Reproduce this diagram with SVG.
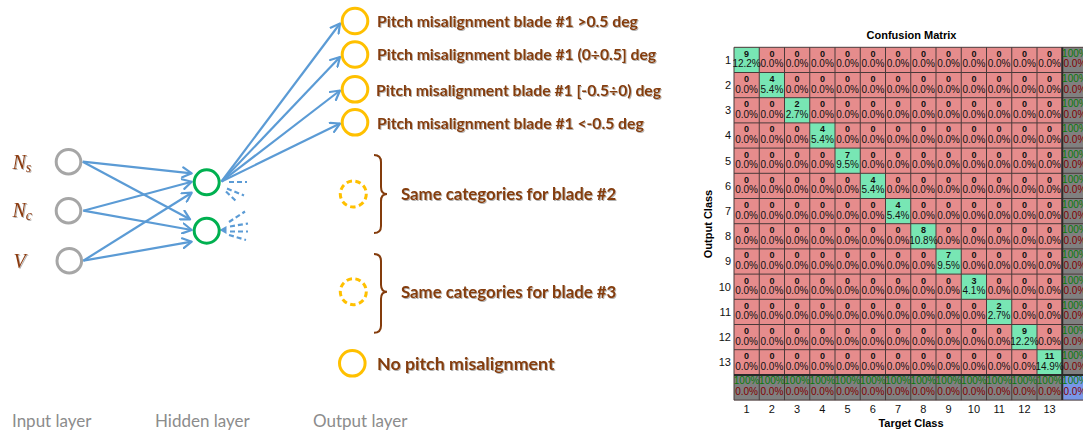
<svg xmlns="http://www.w3.org/2000/svg" width="1083" height="432" viewBox="0 0 1083 432">
<defs>
<marker id="ah" markerUnits="userSpaceOnUse" markerWidth="12" markerHeight="12" viewBox="0 0 12 12" refX="10" refY="6" orient="auto"><path d="M1,1 L10,6 L1,11" fill="none" stroke="#5b9bd5" stroke-width="2.2" stroke-linejoin="round" stroke-linecap="round"/></marker>
<filter id="sh" x="-5%" y="-20%" width="110%" height="150%"><feDropShadow dx="1" dy="1" stdDeviation="0.6" flood-color="#000" flood-opacity="0.3"/></filter>
</defs>
<style>
.lbl{font-family:Lato,"Liberation Sans",sans-serif;font-weight:bold;fill:#843c0c;filter:url(#sh)}
.lay{font-family:Lato,"Liberation Sans",sans-serif;font-size:17px;fill:#8c8c8c}
.var{font-family:"Liberation Serif",serif;font-style:italic;fill:#8b3a0e;filter:url(#sh)}
.inp{fill:#fff;stroke:#a6a6a6;stroke-width:3}
.hid{fill:#fff;stroke:#00b050;stroke-width:3}
.out{fill:#fff;stroke:#ffc000;stroke-width:3}
.dsh{stroke-dasharray:5.5,3.5}
.con{fill:none;stroke:#5b9bd5;stroke-width:2.2;marker-end:url(#ah)}
.stub{fill:none;stroke:#5b9bd5;stroke-width:2.2;stroke-dasharray:5,3}
.brace{fill:none;stroke:#843c0c;stroke-width:2}
.cm{font-family:"Liberation Sans",Arial,sans-serif;text-anchor:middle;fill:#000}
.n{font-family:"Liberation Sans",Arial,sans-serif;font-size:9px;font-weight:bold;text-anchor:middle;fill:#111}
.p{font-family:"Liberation Sans",Arial,sans-serif;font-size:10px;text-anchor:middle;fill:#111}
.g{fill:#0a7a0a}
.r{fill:#800000}
.ax{font-family:"Liberation Sans",Arial,sans-serif;font-size:11px;fill:#111}
</style>
<rect width="1083" height="432" fill="#fff"/>

<g id="connectors">
<path class="con" d="M82.7,161.7 L191.7,173.3"/>
<path class="con" d="M82.7,161.7 L190,219.3"/>
<path class="con" d="M83.3,210.7 L191.7,181.7"/>
<path class="con" d="M83.3,210.7 L191.7,230"/>
<path class="con" d="M83.3,260.7 L191.7,192.7"/>
<path class="con" d="M83.3,260.7 L191.7,241.7"/>
<path class="con" d="M221.5,181.5 L340,23.5"/>
<path class="con" d="M221.5,181.5 L340,57"/>
<path class="con" d="M221.5,181.5 L340,90.5"/>
<path class="con" d="M221.5,181.5 L340,123.5"/>
<path class="stub" d="M229,182 H247 M227,188.5 L244,195.5 M226,191.5 L237,202"/>
<path class="stub" d="M229,222 L245,211.5 M230,226.5 L248,223.5 M230,231.5 H248 M229,235 L246,240"/>
<path d="M219.5,230 L226.5,226 L226.5,234 Z" fill="#5b9bd5"/>
</g>

<g id="input-ns"><circle class="inp" cx="68.5" cy="161.7" r="12.3"/><text class="var" x="12.5" y="169" font-size="20">N<tspan font-size="14" dy="3">s</tspan></text></g>
<g id="input-nc"><circle class="inp" cx="68.5" cy="210.7" r="12.3"/><text class="var" x="12.5" y="217" font-size="20">N<tspan font-size="14" dy="3">c</tspan></text></g>
<g id="input-v"><circle class="inp" cx="69.3" cy="260.7" r="12.3"/><text class="var" x="13.5" y="267.5" font-size="20">V</text></g>

<g id="hidden-1"><circle class="hid" cx="206.7" cy="182.3" r="12.5"/></g>
<g id="hidden-2"><circle class="hid" cx="206.7" cy="230.7" r="12.5"/></g>

<g id="out-1"><circle class="out" cx="355" cy="21" r="12.8"/><text class="lbl" x="377" y="26.7" font-size="15.7">Pitch misalignment blade #1 &gt;0.5 deg</text></g>
<g id="out-2"><circle class="out" cx="355" cy="54.5" r="12.8"/><text class="lbl" x="377" y="60.2" font-size="15.7">Pitch misalignment blade #1 (0÷0.5] deg</text></g>
<g id="out-3"><circle class="out" cx="355" cy="89.3" r="12.8"/><text class="lbl" x="376" y="95.8" font-size="15.7">Pitch misalignment blade #1 [-0.5÷0) deg</text></g>
<g id="out-4"><circle class="out" cx="355" cy="122.3" r="12.8"/><text class="lbl" x="377" y="128.8" font-size="15.7">Pitch misalignment blade #1 &lt;-0.5 deg</text></g>
<g id="out-blade2"><circle class="out dsh" cx="353.3" cy="194" r="13"/><path class="brace" d="M374,155 Q381,155 381,162 L381,187 Q381,194 387,194 Q381,194 381,201 L381,226 Q381,233 374,233"/><text class="lbl" x="401" y="200" font-size="16.8">Same categories for blade #2</text></g>
<g id="out-blade3"><circle class="out dsh" cx="353.3" cy="291.7" r="13"/><path class="brace" d="M374,254 Q381,254 381,261 L381,284.7 Q381,291.7 387,291.7 Q381,291.7 381,298.7 L381,325.7 Q381,332.7 374,332.7"/><text class="lbl" x="401" y="297.7" font-size="16.8">Same categories for blade #3</text></g>
<g id="out-none"><circle class="out" cx="352.3" cy="363.3" r="12.8"/><text class="lbl" x="377" y="369.5" font-size="17.8">No pitch misalignment</text></g>

<g id="layer-labels">
<text class="lay" x="12" y="427">Input layer</text>
<text class="lay" x="155" y="427">Hidden layer</text>
<text class="lay" x="313" y="427">Output layer</text>
</g>

<g id="confusion-matrix">
<text class="cm" x="911.5" y="39" font-size="11" font-weight="bold">Confusion Matrix</text>
<rect x="734" y="47.3" width="328.25" height="327.6" fill="#e68c8c"/>
<rect x="1062.25" y="47.3" width="25.25" height="327.6" fill="#808080"/>
<rect x="734" y="374.9" width="328.25" height="25.2" fill="#808080"/>
<rect x="1062.25" y="374.9" width="25.25" height="25.2" fill="#7896e6"/>
<g fill="#78e6b4">
<rect x="734" y="47.3" width="25.25" height="25.2"/>
<rect x="759.25" y="72.5" width="25.25" height="25.2"/>
<rect x="784.5" y="97.7" width="25.25" height="25.2"/>
<rect x="809.75" y="122.9" width="25.25" height="25.2"/>
<rect x="835" y="148.1" width="25.25" height="25.2"/>
<rect x="860.25" y="173.3" width="25.25" height="25.2"/>
<rect x="885.5" y="198.5" width="25.25" height="25.2"/>
<rect x="910.75" y="223.7" width="25.25" height="25.2"/>
<rect x="936" y="248.9" width="25.25" height="25.2"/>
<rect x="961.25" y="274.1" width="25.25" height="25.2"/>
<rect x="986.5" y="299.3" width="25.25" height="25.2"/>
<rect x="1011.75" y="324.5" width="25.25" height="25.2"/>
<rect x="1037" y="349.7" width="25.25" height="25.2"/>
</g>
<path fill="none" stroke="#4a3a3a" stroke-width="1" d="M734,47.3V400.1 M759.25,47.3V400.1 M784.5,47.3V400.1 M809.75,47.3V400.1 M835,47.3V400.1 M860.25,47.3V400.1 M885.5,47.3V400.1 M910.75,47.3V400.1 M936,47.3V400.1 M961.25,47.3V400.1 M986.5,47.3V400.1 M1011.75,47.3V400.1 M1037,47.3V400.1 M1087.5,47.3V400.1 M734,47.3H1087.5 M734,72.5H1087.5 M734,97.7H1087.5 M734,122.9H1087.5 M734,148.1H1087.5 M734,173.3H1087.5 M734,198.5H1087.5 M734,223.7H1087.5 M734,248.9H1087.5 M734,274.1H1087.5 M734,299.3H1087.5 M734,324.5H1087.5 M734,349.7H1087.5 M734,400.1H1087.5"/>
<path fill="none" stroke="#2a2a2a" stroke-width="2" d="M1062.25,47.3V400.1 M734,374.9H1087.5"/>

<g id="row-1" transform="translate(0,47.3)"><text class="n" x="746.6" y="9.5">9</text><text class="p" x="746.6" y="20">12.2%</text><text class="n" x="771.9" y="9.5">0</text><text class="p" x="771.9" y="20">0.0%</text><text class="n" x="797.1" y="9.5">0</text><text class="p" x="797.1" y="20">0.0%</text><text class="n" x="822.4" y="9.5">0</text><text class="p" x="822.4" y="20">0.0%</text><text class="n" x="847.6" y="9.5">0</text><text class="p" x="847.6" y="20">0.0%</text><text class="n" x="872.9" y="9.5">0</text><text class="p" x="872.9" y="20">0.0%</text><text class="n" x="898.1" y="9.5">0</text><text class="p" x="898.1" y="20">0.0%</text><text class="n" x="923.4" y="9.5">0</text><text class="p" x="923.4" y="20">0.0%</text><text class="n" x="948.6" y="9.5">0</text><text class="p" x="948.6" y="20">0.0%</text><text class="n" x="973.9" y="9.5">0</text><text class="p" x="973.9" y="20">0.0%</text><text class="n" x="999.1" y="9.5">0</text><text class="p" x="999.1" y="20">0.0%</text><text class="n" x="1024.4" y="9.5">0</text><text class="p" x="1024.4" y="20">0.0%</text><text class="n" x="1049.6" y="9.5">0</text><text class="p" x="1049.6" y="20">0.0%</text><text class="p g" x="1074.9" y="9.5">100%</text><text class="p r" x="1074.9" y="20">0.0%</text></g>
<g id="row-2" transform="translate(0,72.5)"><text class="n" x="746.6" y="9.5">0</text><text class="p" x="746.6" y="20">0.0%</text><text class="n" x="771.9" y="9.5">4</text><text class="p" x="771.9" y="20">5.4%</text><text class="n" x="797.1" y="9.5">0</text><text class="p" x="797.1" y="20">0.0%</text><text class="n" x="822.4" y="9.5">0</text><text class="p" x="822.4" y="20">0.0%</text><text class="n" x="847.6" y="9.5">0</text><text class="p" x="847.6" y="20">0.0%</text><text class="n" x="872.9" y="9.5">0</text><text class="p" x="872.9" y="20">0.0%</text><text class="n" x="898.1" y="9.5">0</text><text class="p" x="898.1" y="20">0.0%</text><text class="n" x="923.4" y="9.5">0</text><text class="p" x="923.4" y="20">0.0%</text><text class="n" x="948.6" y="9.5">0</text><text class="p" x="948.6" y="20">0.0%</text><text class="n" x="973.9" y="9.5">0</text><text class="p" x="973.9" y="20">0.0%</text><text class="n" x="999.1" y="9.5">0</text><text class="p" x="999.1" y="20">0.0%</text><text class="n" x="1024.4" y="9.5">0</text><text class="p" x="1024.4" y="20">0.0%</text><text class="n" x="1049.6" y="9.5">0</text><text class="p" x="1049.6" y="20">0.0%</text><text class="p g" x="1074.9" y="9.5">100%</text><text class="p r" x="1074.9" y="20">0.0%</text></g>
<g id="row-3" transform="translate(0,97.7)"><text class="n" x="746.6" y="9.5">0</text><text class="p" x="746.6" y="20">0.0%</text><text class="n" x="771.9" y="9.5">0</text><text class="p" x="771.9" y="20">0.0%</text><text class="n" x="797.1" y="9.5">2</text><text class="p" x="797.1" y="20">2.7%</text><text class="n" x="822.4" y="9.5">0</text><text class="p" x="822.4" y="20">0.0%</text><text class="n" x="847.6" y="9.5">0</text><text class="p" x="847.6" y="20">0.0%</text><text class="n" x="872.9" y="9.5">0</text><text class="p" x="872.9" y="20">0.0%</text><text class="n" x="898.1" y="9.5">0</text><text class="p" x="898.1" y="20">0.0%</text><text class="n" x="923.4" y="9.5">0</text><text class="p" x="923.4" y="20">0.0%</text><text class="n" x="948.6" y="9.5">0</text><text class="p" x="948.6" y="20">0.0%</text><text class="n" x="973.9" y="9.5">0</text><text class="p" x="973.9" y="20">0.0%</text><text class="n" x="999.1" y="9.5">0</text><text class="p" x="999.1" y="20">0.0%</text><text class="n" x="1024.4" y="9.5">0</text><text class="p" x="1024.4" y="20">0.0%</text><text class="n" x="1049.6" y="9.5">0</text><text class="p" x="1049.6" y="20">0.0%</text><text class="p g" x="1074.9" y="9.5">100%</text><text class="p r" x="1074.9" y="20">0.0%</text></g>
<g id="row-4" transform="translate(0,122.9)"><text class="n" x="746.6" y="9.5">0</text><text class="p" x="746.6" y="20">0.0%</text><text class="n" x="771.9" y="9.5">0</text><text class="p" x="771.9" y="20">0.0%</text><text class="n" x="797.1" y="9.5">0</text><text class="p" x="797.1" y="20">0.0%</text><text class="n" x="822.4" y="9.5">4</text><text class="p" x="822.4" y="20">5.4%</text><text class="n" x="847.6" y="9.5">0</text><text class="p" x="847.6" y="20">0.0%</text><text class="n" x="872.9" y="9.5">0</text><text class="p" x="872.9" y="20">0.0%</text><text class="n" x="898.1" y="9.5">0</text><text class="p" x="898.1" y="20">0.0%</text><text class="n" x="923.4" y="9.5">0</text><text class="p" x="923.4" y="20">0.0%</text><text class="n" x="948.6" y="9.5">0</text><text class="p" x="948.6" y="20">0.0%</text><text class="n" x="973.9" y="9.5">0</text><text class="p" x="973.9" y="20">0.0%</text><text class="n" x="999.1" y="9.5">0</text><text class="p" x="999.1" y="20">0.0%</text><text class="n" x="1024.4" y="9.5">0</text><text class="p" x="1024.4" y="20">0.0%</text><text class="n" x="1049.6" y="9.5">0</text><text class="p" x="1049.6" y="20">0.0%</text><text class="p g" x="1074.9" y="9.5">100%</text><text class="p r" x="1074.9" y="20">0.0%</text></g>
<g id="row-5" transform="translate(0,148.1)"><text class="n" x="746.6" y="9.5">0</text><text class="p" x="746.6" y="20">0.0%</text><text class="n" x="771.9" y="9.5">0</text><text class="p" x="771.9" y="20">0.0%</text><text class="n" x="797.1" y="9.5">0</text><text class="p" x="797.1" y="20">0.0%</text><text class="n" x="822.4" y="9.5">0</text><text class="p" x="822.4" y="20">0.0%</text><text class="n" x="847.6" y="9.5">7</text><text class="p" x="847.6" y="20">9.5%</text><text class="n" x="872.9" y="9.5">0</text><text class="p" x="872.9" y="20">0.0%</text><text class="n" x="898.1" y="9.5">0</text><text class="p" x="898.1" y="20">0.0%</text><text class="n" x="923.4" y="9.5">0</text><text class="p" x="923.4" y="20">0.0%</text><text class="n" x="948.6" y="9.5">0</text><text class="p" x="948.6" y="20">0.0%</text><text class="n" x="973.9" y="9.5">0</text><text class="p" x="973.9" y="20">0.0%</text><text class="n" x="999.1" y="9.5">0</text><text class="p" x="999.1" y="20">0.0%</text><text class="n" x="1024.4" y="9.5">0</text><text class="p" x="1024.4" y="20">0.0%</text><text class="n" x="1049.6" y="9.5">0</text><text class="p" x="1049.6" y="20">0.0%</text><text class="p g" x="1074.9" y="9.5">100%</text><text class="p r" x="1074.9" y="20">0.0%</text></g>
<g id="row-6" transform="translate(0,173.3)"><text class="n" x="746.6" y="9.5">0</text><text class="p" x="746.6" y="20">0.0%</text><text class="n" x="771.9" y="9.5">0</text><text class="p" x="771.9" y="20">0.0%</text><text class="n" x="797.1" y="9.5">0</text><text class="p" x="797.1" y="20">0.0%</text><text class="n" x="822.4" y="9.5">0</text><text class="p" x="822.4" y="20">0.0%</text><text class="n" x="847.6" y="9.5">0</text><text class="p" x="847.6" y="20">0.0%</text><text class="n" x="872.9" y="9.5">4</text><text class="p" x="872.9" y="20">5.4%</text><text class="n" x="898.1" y="9.5">0</text><text class="p" x="898.1" y="20">0.0%</text><text class="n" x="923.4" y="9.5">0</text><text class="p" x="923.4" y="20">0.0%</text><text class="n" x="948.6" y="9.5">0</text><text class="p" x="948.6" y="20">0.0%</text><text class="n" x="973.9" y="9.5">0</text><text class="p" x="973.9" y="20">0.0%</text><text class="n" x="999.1" y="9.5">0</text><text class="p" x="999.1" y="20">0.0%</text><text class="n" x="1024.4" y="9.5">0</text><text class="p" x="1024.4" y="20">0.0%</text><text class="n" x="1049.6" y="9.5">0</text><text class="p" x="1049.6" y="20">0.0%</text><text class="p g" x="1074.9" y="9.5">100%</text><text class="p r" x="1074.9" y="20">0.0%</text></g>
<g id="row-7" transform="translate(0,198.5)"><text class="n" x="746.6" y="9.5">0</text><text class="p" x="746.6" y="20">0.0%</text><text class="n" x="771.9" y="9.5">0</text><text class="p" x="771.9" y="20">0.0%</text><text class="n" x="797.1" y="9.5">0</text><text class="p" x="797.1" y="20">0.0%</text><text class="n" x="822.4" y="9.5">0</text><text class="p" x="822.4" y="20">0.0%</text><text class="n" x="847.6" y="9.5">0</text><text class="p" x="847.6" y="20">0.0%</text><text class="n" x="872.9" y="9.5">0</text><text class="p" x="872.9" y="20">0.0%</text><text class="n" x="898.1" y="9.5">4</text><text class="p" x="898.1" y="20">5.4%</text><text class="n" x="923.4" y="9.5">0</text><text class="p" x="923.4" y="20">0.0%</text><text class="n" x="948.6" y="9.5">0</text><text class="p" x="948.6" y="20">0.0%</text><text class="n" x="973.9" y="9.5">0</text><text class="p" x="973.9" y="20">0.0%</text><text class="n" x="999.1" y="9.5">0</text><text class="p" x="999.1" y="20">0.0%</text><text class="n" x="1024.4" y="9.5">0</text><text class="p" x="1024.4" y="20">0.0%</text><text class="n" x="1049.6" y="9.5">0</text><text class="p" x="1049.6" y="20">0.0%</text><text class="p g" x="1074.9" y="9.5">100%</text><text class="p r" x="1074.9" y="20">0.0%</text></g>
<g id="row-8" transform="translate(0,223.7)"><text class="n" x="746.6" y="9.5">0</text><text class="p" x="746.6" y="20">0.0%</text><text class="n" x="771.9" y="9.5">0</text><text class="p" x="771.9" y="20">0.0%</text><text class="n" x="797.1" y="9.5">0</text><text class="p" x="797.1" y="20">0.0%</text><text class="n" x="822.4" y="9.5">0</text><text class="p" x="822.4" y="20">0.0%</text><text class="n" x="847.6" y="9.5">0</text><text class="p" x="847.6" y="20">0.0%</text><text class="n" x="872.9" y="9.5">0</text><text class="p" x="872.9" y="20">0.0%</text><text class="n" x="898.1" y="9.5">0</text><text class="p" x="898.1" y="20">0.0%</text><text class="n" x="923.4" y="9.5">8</text><text class="p" x="923.4" y="20">10.8%</text><text class="n" x="948.6" y="9.5">0</text><text class="p" x="948.6" y="20">0.0%</text><text class="n" x="973.9" y="9.5">0</text><text class="p" x="973.9" y="20">0.0%</text><text class="n" x="999.1" y="9.5">0</text><text class="p" x="999.1" y="20">0.0%</text><text class="n" x="1024.4" y="9.5">0</text><text class="p" x="1024.4" y="20">0.0%</text><text class="n" x="1049.6" y="9.5">0</text><text class="p" x="1049.6" y="20">0.0%</text><text class="p g" x="1074.9" y="9.5">100%</text><text class="p r" x="1074.9" y="20">0.0%</text></g>
<g id="row-9" transform="translate(0,248.9)"><text class="n" x="746.6" y="9.5">0</text><text class="p" x="746.6" y="20">0.0%</text><text class="n" x="771.9" y="9.5">0</text><text class="p" x="771.9" y="20">0.0%</text><text class="n" x="797.1" y="9.5">0</text><text class="p" x="797.1" y="20">0.0%</text><text class="n" x="822.4" y="9.5">0</text><text class="p" x="822.4" y="20">0.0%</text><text class="n" x="847.6" y="9.5">0</text><text class="p" x="847.6" y="20">0.0%</text><text class="n" x="872.9" y="9.5">0</text><text class="p" x="872.9" y="20">0.0%</text><text class="n" x="898.1" y="9.5">0</text><text class="p" x="898.1" y="20">0.0%</text><text class="n" x="923.4" y="9.5">0</text><text class="p" x="923.4" y="20">0.0%</text><text class="n" x="948.6" y="9.5">7</text><text class="p" x="948.6" y="20">9.5%</text><text class="n" x="973.9" y="9.5">0</text><text class="p" x="973.9" y="20">0.0%</text><text class="n" x="999.1" y="9.5">0</text><text class="p" x="999.1" y="20">0.0%</text><text class="n" x="1024.4" y="9.5">0</text><text class="p" x="1024.4" y="20">0.0%</text><text class="n" x="1049.6" y="9.5">0</text><text class="p" x="1049.6" y="20">0.0%</text><text class="p g" x="1074.9" y="9.5">100%</text><text class="p r" x="1074.9" y="20">0.0%</text></g>
<g id="row-10" transform="translate(0,274.1)"><text class="n" x="746.6" y="9.5">0</text><text class="p" x="746.6" y="20">0.0%</text><text class="n" x="771.9" y="9.5">0</text><text class="p" x="771.9" y="20">0.0%</text><text class="n" x="797.1" y="9.5">0</text><text class="p" x="797.1" y="20">0.0%</text><text class="n" x="822.4" y="9.5">0</text><text class="p" x="822.4" y="20">0.0%</text><text class="n" x="847.6" y="9.5">0</text><text class="p" x="847.6" y="20">0.0%</text><text class="n" x="872.9" y="9.5">0</text><text class="p" x="872.9" y="20">0.0%</text><text class="n" x="898.1" y="9.5">0</text><text class="p" x="898.1" y="20">0.0%</text><text class="n" x="923.4" y="9.5">0</text><text class="p" x="923.4" y="20">0.0%</text><text class="n" x="948.6" y="9.5">0</text><text class="p" x="948.6" y="20">0.0%</text><text class="n" x="973.9" y="9.5">3</text><text class="p" x="973.9" y="20">4.1%</text><text class="n" x="999.1" y="9.5">0</text><text class="p" x="999.1" y="20">0.0%</text><text class="n" x="1024.4" y="9.5">0</text><text class="p" x="1024.4" y="20">0.0%</text><text class="n" x="1049.6" y="9.5">0</text><text class="p" x="1049.6" y="20">0.0%</text><text class="p g" x="1074.9" y="9.5">100%</text><text class="p r" x="1074.9" y="20">0.0%</text></g>
<g id="row-11" transform="translate(0,299.3)"><text class="n" x="746.6" y="9.5">0</text><text class="p" x="746.6" y="20">0.0%</text><text class="n" x="771.9" y="9.5">0</text><text class="p" x="771.9" y="20">0.0%</text><text class="n" x="797.1" y="9.5">0</text><text class="p" x="797.1" y="20">0.0%</text><text class="n" x="822.4" y="9.5">0</text><text class="p" x="822.4" y="20">0.0%</text><text class="n" x="847.6" y="9.5">0</text><text class="p" x="847.6" y="20">0.0%</text><text class="n" x="872.9" y="9.5">0</text><text class="p" x="872.9" y="20">0.0%</text><text class="n" x="898.1" y="9.5">0</text><text class="p" x="898.1" y="20">0.0%</text><text class="n" x="923.4" y="9.5">0</text><text class="p" x="923.4" y="20">0.0%</text><text class="n" x="948.6" y="9.5">0</text><text class="p" x="948.6" y="20">0.0%</text><text class="n" x="973.9" y="9.5">0</text><text class="p" x="973.9" y="20">0.0%</text><text class="n" x="999.1" y="9.5">2</text><text class="p" x="999.1" y="20">2.7%</text><text class="n" x="1024.4" y="9.5">0</text><text class="p" x="1024.4" y="20">0.0%</text><text class="n" x="1049.6" y="9.5">0</text><text class="p" x="1049.6" y="20">0.0%</text><text class="p g" x="1074.9" y="9.5">100%</text><text class="p r" x="1074.9" y="20">0.0%</text></g>
<g id="row-12" transform="translate(0,324.5)"><text class="n" x="746.6" y="9.5">0</text><text class="p" x="746.6" y="20">0.0%</text><text class="n" x="771.9" y="9.5">0</text><text class="p" x="771.9" y="20">0.0%</text><text class="n" x="797.1" y="9.5">0</text><text class="p" x="797.1" y="20">0.0%</text><text class="n" x="822.4" y="9.5">0</text><text class="p" x="822.4" y="20">0.0%</text><text class="n" x="847.6" y="9.5">0</text><text class="p" x="847.6" y="20">0.0%</text><text class="n" x="872.9" y="9.5">0</text><text class="p" x="872.9" y="20">0.0%</text><text class="n" x="898.1" y="9.5">0</text><text class="p" x="898.1" y="20">0.0%</text><text class="n" x="923.4" y="9.5">0</text><text class="p" x="923.4" y="20">0.0%</text><text class="n" x="948.6" y="9.5">0</text><text class="p" x="948.6" y="20">0.0%</text><text class="n" x="973.9" y="9.5">0</text><text class="p" x="973.9" y="20">0.0%</text><text class="n" x="999.1" y="9.5">0</text><text class="p" x="999.1" y="20">0.0%</text><text class="n" x="1024.4" y="9.5">9</text><text class="p" x="1024.4" y="20">12.2%</text><text class="n" x="1049.6" y="9.5">0</text><text class="p" x="1049.6" y="20">0.0%</text><text class="p g" x="1074.9" y="9.5">100%</text><text class="p r" x="1074.9" y="20">0.0%</text></g>
<g id="row-13" transform="translate(0,349.7)"><text class="n" x="746.6" y="9.5">0</text><text class="p" x="746.6" y="20">0.0%</text><text class="n" x="771.9" y="9.5">0</text><text class="p" x="771.9" y="20">0.0%</text><text class="n" x="797.1" y="9.5">0</text><text class="p" x="797.1" y="20">0.0%</text><text class="n" x="822.4" y="9.5">0</text><text class="p" x="822.4" y="20">0.0%</text><text class="n" x="847.6" y="9.5">0</text><text class="p" x="847.6" y="20">0.0%</text><text class="n" x="872.9" y="9.5">0</text><text class="p" x="872.9" y="20">0.0%</text><text class="n" x="898.1" y="9.5">0</text><text class="p" x="898.1" y="20">0.0%</text><text class="n" x="923.4" y="9.5">0</text><text class="p" x="923.4" y="20">0.0%</text><text class="n" x="948.6" y="9.5">0</text><text class="p" x="948.6" y="20">0.0%</text><text class="n" x="973.9" y="9.5">0</text><text class="p" x="973.9" y="20">0.0%</text><text class="n" x="999.1" y="9.5">0</text><text class="p" x="999.1" y="20">0.0%</text><text class="n" x="1024.4" y="9.5">0</text><text class="p" x="1024.4" y="20">0.0%</text><text class="n" x="1049.6" y="9.5">11</text><text class="p" x="1049.6" y="20">14.9%</text><text class="p g" x="1074.9" y="9.5">100%</text><text class="p r" x="1074.9" y="20">0.0%</text></g>
<g id="row-total" transform="translate(0,374.9)"><text class="p g" x="746.6" y="9.5">100%</text><text class="p r" x="746.6" y="20">0.0%</text><text class="p g" x="771.9" y="9.5">100%</text><text class="p r" x="771.9" y="20">0.0%</text><text class="p g" x="797.1" y="9.5">100%</text><text class="p r" x="797.1" y="20">0.0%</text><text class="p g" x="822.4" y="9.5">100%</text><text class="p r" x="822.4" y="20">0.0%</text><text class="p g" x="847.6" y="9.5">100%</text><text class="p r" x="847.6" y="20">0.0%</text><text class="p g" x="872.9" y="9.5">100%</text><text class="p r" x="872.9" y="20">0.0%</text><text class="p g" x="898.1" y="9.5">100%</text><text class="p r" x="898.1" y="20">0.0%</text><text class="p g" x="923.4" y="9.5">100%</text><text class="p r" x="923.4" y="20">0.0%</text><text class="p g" x="948.6" y="9.5">100%</text><text class="p r" x="948.6" y="20">0.0%</text><text class="p g" x="973.9" y="9.5">100%</text><text class="p r" x="973.9" y="20">0.0%</text><text class="p g" x="999.1" y="9.5">100%</text><text class="p r" x="999.1" y="20">0.0%</text><text class="p g" x="1024.4" y="9.5">100%</text><text class="p r" x="1024.4" y="20">0.0%</text><text class="p g" x="1049.6" y="9.5">100%</text><text class="p r" x="1049.6" y="20">0.0%</text><text class="p g" x="1074.9" y="9.5">100%</text><text class="p r" x="1074.9" y="20">0.0%</text></g>

<g id="row-labels" class="ax" text-anchor="end">
<text x="731" y="63.8">1</text><text x="731" y="89">2</text><text x="731" y="114.2">3</text><text x="731" y="139.4">4</text><text x="731" y="164.6">5</text><text x="731" y="189.8">6</text><text x="731" y="215">7</text><text x="731" y="240.2">8</text><text x="731" y="265.4">9</text><text x="731" y="290.6">10</text><text x="731" y="315.8">11</text><text x="731" y="341">12</text><text x="731" y="366.2">13</text>
</g>
<g id="col-labels" class="ax" text-anchor="middle">
<text x="746.6" y="413">1</text><text x="771.9" y="413">2</text><text x="797.1" y="413">3</text><text x="822.4" y="413">4</text><text x="847.6" y="413">5</text><text x="872.9" y="413">6</text><text x="898.1" y="413">7</text><text x="923.4" y="413">8</text><text x="948.6" y="413">9</text><text x="973.9" y="413">10</text><text x="999.1" y="413">11</text><text x="1024.4" y="413">12</text><text x="1049.6" y="413">13</text>
</g>
<text class="cm" x="911" y="427" font-size="11" font-weight="bold">Target Class</text>
<text class="cm" transform="translate(712,224) rotate(-90)" x="0" y="0" font-size="11" font-weight="bold">Output Class</text>
</g>
</svg>
